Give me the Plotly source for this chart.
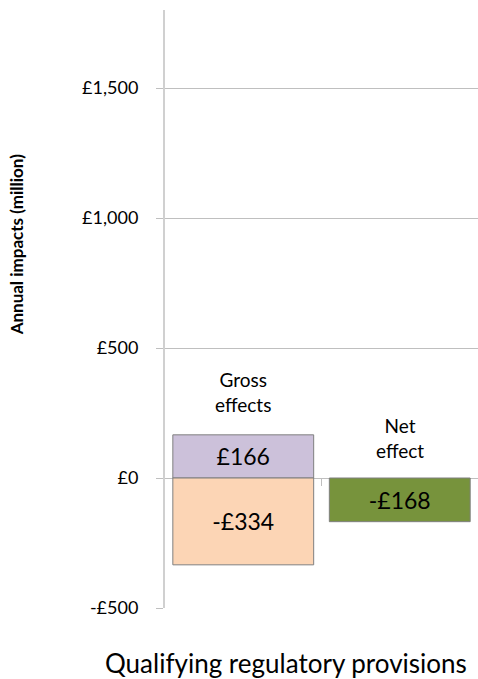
import plotly.graph_objects as go

categories = ["Gross effects", "Net effect"]
gross_positive = [166, None]
gross_negative = [-334, None]
net_values = [None, -168]
y_ticks = [-500, 0, 500, 1000, 1500]
y_tick_labels = ["-£500", "£0", "£500", "£1,000", "£1,500"]

FONT = "Lato"
Y_MIN, Y_MAX = -500, 1800

def fmt(v):
    return "" if v is None else ("-£%d" % abs(v) if v < 0 else "£%d" % v)

fig = go.Figure()
for vals, color in [(gross_positive, "#ccc1da"), (gross_negative, "#fcd5b5"), (net_values, "#77933c")]:
    fig.add_trace(go.Bar(
        x=categories, y=vals, marker=dict(color=color, line=dict(color="#7f7f7f", width=1)),
        text=[fmt(v) for v in vals], textposition="inside", insidetextanchor="middle",
        constraintext="none", textfont=dict(family=FONT, size=23, color="#000000"),
        width=0.9, hoverinfo="skip", showlegend=False,
    ))
# empty helper trace so the category-boundary tick axis at y=0 is drawn
fig.add_trace(go.Scatter(x=[None], y=[None], xaxis="x2", yaxis="y", mode="markers",
                         showlegend=False, hoverinfo="skip"))

fig.add_annotation(x=categories[0], y=330, text="Gross<br>effects", showarrow=False,
                   font=dict(family=FONT, size=19, color="#000000"))
fig.add_annotation(x=categories[1], y=153, text="Net<br>effect", showarrow=False,
                   font=dict(family=FONT, size=19, color="#000000"))
fig.add_annotation(xref="paper", yref="paper", x=0.387, y=-0.092, xanchor="center", yanchor="middle",
                   text="Qualifying regulatory provisions",
                   showarrow=False, font=dict(family=FONT, size=26, color="#000000"))
fig.add_annotation(xref="paper", yref="paper", x=-0.475, y=0.607, xanchor="center", yanchor="middle",
                   text="<b>Annual impacts (million)</b>",
                   textangle=-90, showarrow=False, font=dict(family=FONT, size=17, color="#000000"))

fig.update_layout(
    width=478, height=679, barmode="relative", bargap=0.1,
    margin=dict(l=165, r=0, t=10, b=71),
    paper_bgcolor="white", plot_bgcolor="white",
    font=dict(family=FONT, color="#000000"),
    xaxis=dict(showticklabels=False, showgrid=False, showline=False, zeroline=False,
               range=[-0.5, 1.5], fixedrange=True),
    xaxis2=dict(overlaying="x", anchor="free", position=(0 - Y_MIN) / (Y_MAX - Y_MIN),
                range=[-0.5, 1.5], tickvals=[0.5, 1.5], ticktext=["", ""],
                ticks="outside", ticklen=7, tickcolor="#bfbfbf", tickwidth=1,
                showgrid=False, showline=False, zeroline=False, side="bottom", fixedrange=True),
)
fig.update_yaxes(range=[Y_MIN, Y_MAX], tickvals=y_ticks, ticktext=y_tick_labels,
                 showgrid=True, gridcolor="#bfbfbf", gridwidth=1,
                 zeroline=True, zerolinecolor="#bfbfbf", zerolinewidth=1,
                 showline=True, linecolor="#d0d0d0", linewidth=2,
                 ticks="outside", ticklen=7, tickcolor="#bfbfbf",
                 ticklabelstandoff=14, fixedrange=True,
                 tickfont=dict(family=FONT, size=18, color="#000000"))

fig.write_html("out.html", config={"displayModeBar": False},
               post_script="document.body.style.margin='0';document.body.style.overflow='hidden';")
